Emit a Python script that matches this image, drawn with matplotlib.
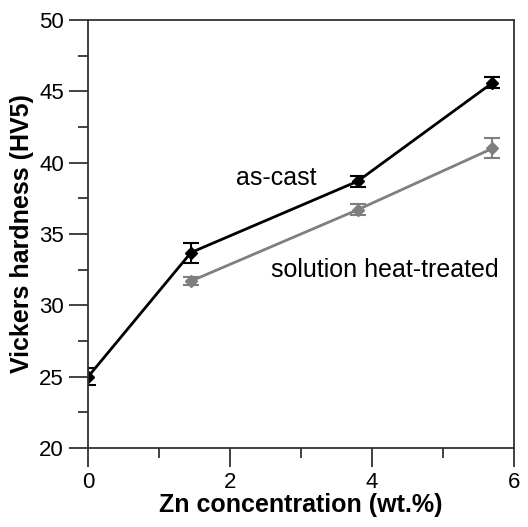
import numpy as np
import matplotlib.pyplot as plt
from matplotlib.ticker import MultipleLocator

plt.rcParams['font.family'] = ['Liberation Sans', 'DejaVu Sans']

# as-cast
zn_cast = [0, 1.45, 3.8, 5.7]
hv_cast = [25.0, 33.7, 38.7, 45.6]
err_cast = [0.6, 0.7, 0.4, 0.4]

# solution heat-treated
zn_ht = [1.45, 3.8, 5.7]
hv_ht = [31.7, 36.7, 41.0]
err_ht = [0.3, 0.4, 0.7]

fig = plt.figure(figsize=(5.28, 5.27), dpi=100)
ax = fig.add_axes([0.167, 0.150, 0.806, 0.812])

ax.errorbar(zn_cast, hv_cast, yerr=err_cast, color='black', marker='D', ms=6,
            lw=2, capsize=6, elinewidth=1.5, capthick=1.5)
ax.errorbar(zn_ht, hv_ht, yerr=err_ht, color='#7f7f7f', marker='D', ms=6,
            lw=2, capsize=6, elinewidth=1.5, capthick=1.5)

ax.text(2.65, 38.9, 'as-cast', fontsize=18, ha='center', va='center')
ax.text(4.18, 32.5, 'solution heat-treated', fontsize=18, ha='center', va='center')

ax.set_xlim(0, 6)
ax.set_ylim(20, 50)
ax.xaxis.set_major_locator(MultipleLocator(2))
ax.xaxis.set_minor_locator(MultipleLocator(1))
ax.yaxis.set_major_locator(MultipleLocator(5))
ax.yaxis.set_minor_locator(MultipleLocator(2.5))
ax.tick_params(which='both', direction='out', top=False, right=False,
               width=1.3, color='#333333', labelsize=16)
ax.tick_params(which='major', length=14)
ax.tick_params(which='minor', length=7)
for s in ax.spines.values():
    s.set_color('#333333')
    s.set_linewidth(1.3)

ax.set_xlabel('Zn concentration (wt.%)', fontsize=18, fontweight='bold', labelpad=0)
ax.set_ylabel('Vickers hardness (HV5)', fontsize=18, fontweight='bold', labelpad=4)

fig.savefig('out.png', dpi=100)
